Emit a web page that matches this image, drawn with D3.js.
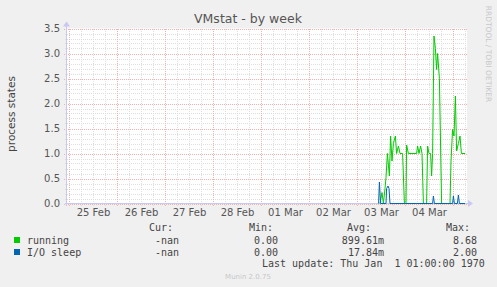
<!DOCTYPE html>
<html>
<head>
<meta charset="utf-8">
<script src="https://cdn.jsdelivr.net/npm/d3@7"></script>
<style>
  body { margin: 0; background: #f0f0f0; }
  svg { display: block; }
  text { font-family: "DejaVu Sans", sans-serif; }
  .mono { font-family: "DejaVu Sans Mono", monospace; font-size: 10px; fill: #444; white-space: pre; }
</style>
</head>
<body>
<svg id="chart" width="497" height="287"></svg>
<script>
  // hours since 25 Feb 00:00
  const runHours = [155.5, 156.5, 157.2, 158, 158.5, 159.2, 160.2, 160.8, 161.5, 162.2, 163.2, 163.8, 164.7, 165.5,
    166.8, 167.7, 168.5, 168.8, 169.7, 173.8, 174.3, 175, 175.8, 176.5, 177.2, 178.8, 179.3, 180, 180.8, 181.3,
    181.8, 182.5, 183.2, 183.8, 184.3, 185.2, 186.3, 190.5, 191, 191.8, 192.5, 193.2, 193.8, 194.7, 195.5, 196.2, 198];
  const runValues = [0, 0.22, 0, 0.3, 0.52, 1.0, 0.55, 1.35, 0.85, 1.2, 1.35, 1.0, 1.15, 1.0,
    1.0, 0, 0, 1.17, 1.0, 1.0, 1.15, 1.0, 1.15, 1.0, 0, 0, 1.15, 1.0, 1.0, 0.55,
    1.0, 3.35, 3.1, 2.68, 3.0, 2.5, 0, 0, 0.85, 1.48, 1.35, 2.15, 1.05, 1.2, 1.35, 1.0, 1.0];
  const ioHours = [154.8, 155.2, 155.8, 158.5, 158.8, 159.5, 160, 160.5, 181.8, 182.2, 182.7, 191.8, 192.2, 192.7,
    194.2, 194.7, 195.2, 198];
  const ioValues = [0, 0.43, 0, 0, 0.3, 0.35, 0.3, 0, 0, 0.15, 0, 0, 0.15, 0, 0, 0.17, 0, 0];

  const dayLabels = ["25 Feb", "26 Feb", "27 Feb", "28 Feb", "01 Mar", "02 Mar", "03 Mar", "04 Mar"];
  const yTicks = [0, 0.5, 1.0, 1.5, 2.0, 2.5, 3.0, 3.5];

  const legendRows = [
    { name: "running", color: "#00cc00", cur: "-nan", min: "0.00", avg: "899.61m", max: "8.68" },
    { name: "I/O sleep", color: "#0066b3", cur: "-nan", min: "0.00", avg: "17.84m", max: "2.00" }
  ];

  const t0 = Date.UTC(2023, 1, 25);
  const hourMs = 3600 * 1000;
  const toDate = (h) => new Date(t0 + h * hourMs);

  const marginLeft = 67;
  const plotRight = 467;
  const plotTop = 28.5;
  const plotBottom = 203.5;

  const x = d3.scaleUtc()
    .domain([toDate(-1), toDate(199)])
    .range([marginLeft, plotRight]);

  const y = d3.scaleLinear()
    .domain([0, 3.5])
    .range([plotBottom, plotTop]);

  const svg = d3.select("#chart");

  svg.append("rect")
    .attr("x", marginLeft).attr("y", plotTop)
    .attr("width", plotRight - marginLeft).attr("height", plotBottom - plotTop)
    .attr("fill", "#ffffff");

  // minor grid
  const minorY = d3.range(0, 36).map((i) => i / 10).filter((v) => Math.round(v * 10) % 5 !== 0);
  const minorX = d3.utcHour.every(6).range(toDate(-1), toDate(199))
    .filter((d) => d.getUTCHours() !== 0);
  const days = d3.utcDay.range(toDate(-1), toDate(199));

  const grid = svg.append("g").attr("shape-rendering", "crispEdges");
  grid.selectAll(".hminor").data(minorY).enter().append("line")
    .attr("x1", marginLeft - 2).attr("x2", plotRight)
    .attr("y1", (d) => Math.round(y(d)) + 0.5).attr("y2", (d) => Math.round(y(d)) + 0.5)
    .attr("stroke", "#dedede").attr("stroke-dasharray", "1,1");
  grid.selectAll(".vminor").data(minorX).enter().append("line")
    .attr("x1", (d) => Math.round(x(d)) + 0.5).attr("x2", (d) => Math.round(x(d)) + 0.5)
    .attr("y1", plotTop).attr("y2", plotBottom + 2)
    .attr("stroke", "#dedede").attr("stroke-dasharray", "1,1");
  grid.selectAll(".hmajor").data(yTicks).enter().append("line")
    .attr("x1", marginLeft - 3).attr("x2", plotRight)
    .attr("y1", (d) => Math.round(y(d)) + 0.5).attr("y2", (d) => Math.round(y(d)) + 0.5)
    .attr("stroke", "#eeb4b4").attr("stroke-dasharray", "1,1");
  grid.selectAll(".vmajor").data(days).enter().append("line")
    .attr("x1", (d) => Math.round(x(d)) + 0.5).attr("x2", (d) => Math.round(x(d)) + 0.5)
    .attr("y1", plotTop).attr("y2", plotBottom + 3)
    .attr("stroke", "#eeb4b4").attr("stroke-dasharray", "1,1");

  // axes lines with arrows
  const axisColor = "#c8c8f0";
  svg.append("line").attr("shape-rendering", "crispEdges")
    .attr("x1", marginLeft - 2).attr("x2", plotRight + 2)
    .attr("y1", plotBottom).attr("y2", plotBottom).attr("stroke", axisColor);
  svg.append("line").attr("shape-rendering", "crispEdges")
    .attr("x1", marginLeft - 0.5).attr("x2", marginLeft - 0.5)
    .attr("y1", plotBottom + 2).attr("y2", plotTop - 3).attr("stroke", axisColor);
  svg.append("path")
    .attr("d", `M${plotRight + 1},${plotBottom - 3.5}L${plotRight + 6},${plotBottom}L${plotRight + 1},${plotBottom + 3.5}Z`)
    .attr("fill", axisColor);
  svg.append("path")
    .attr("d", `M${marginLeft - 4},${plotTop - 2}L${marginLeft - 0.5},${plotTop - 7}L${marginLeft + 3},${plotTop - 2}Z`)
    .attr("fill", axisColor);

  // tick labels
  const yAxis = svg.append("g")
    .attr("transform", `translate(${marginLeft},0)`)
    .call(d3.axisLeft(y).tickValues(yTicks).tickFormat(d3.format(".1f")).tickSize(0).tickPadding(7));
  yAxis.select(".domain").remove();
  yAxis.selectAll("text").attr("font-family", "DejaVu Sans").attr("font-size", 10).attr("fill", "#555");

  const noonTicks = dayLabels.map((d, i) => toDate(i * 24 + 12));
  const xAxis = svg.append("g")
    .attr("transform", `translate(0,${plotBottom})`)
    .call(d3.axisBottom(x).tickValues(noonTicks).tickFormat((d, i) => dayLabels[i]).tickSize(0).tickPadding(5));
  xAxis.select(".domain").remove();
  xAxis.selectAll("text").attr("font-family", "DejaVu Sans").attr("font-size", 10).attr("fill", "#555");

  // series
  const line = d3.line()
    .x((d) => x(toDate(d[0])))
    .y((d) => y(d[1]));

  svg.append("path")
    .datum(d3.zip(runHours, runValues))
    .attr("fill", "none").attr("stroke", "#00cc00").attr("stroke-width", 1)
    .attr("d", line);
  svg.append("path")
    .datum(d3.zip(ioHours, ioValues))
    .attr("fill", "none").attr("stroke", "#0066b3").attr("stroke-width", 1)
    .attr("d", line);

  // title and labels
  svg.append("text").attr("x", 248).attr("y", 23).attr("text-anchor", "middle")
    .attr("font-size", 12.5).attr("fill", "#555").text("VMstat - by week");
  svg.append("text").attr("transform", "translate(15,114) rotate(-90)").attr("text-anchor", "middle")
    .attr("font-size", 10.5).attr("fill", "#444").text("process states");
  svg.append("text").attr("transform", "translate(486,54) rotate(90)").attr("text-anchor", "middle")
    .attr("font-size", 7.5).attr("fill", "#c8c8c8").text("RRDTOOL / TOBI OETIKER");

  // legend
  const headers = [["Cur:", 149], ["Min:", 249], ["Avg:", 347], ["Max:", 446]];
  svg.selectAll(".hdr").data(headers).enter().append("text")
    .attr("class", "mono").attr("x", (d) => d[1]).attr("y", 231).text((d) => d[0]);

  const rows = svg.selectAll(".row").data(legendRows).enter().append("g")
    .attr("transform", (d, i) => `translate(0,${244 + i * 12})`);
  rows.append("rect").attr("x", 14).attr("y", -7).attr("width", 6).attr("height", 6)
    .attr("fill", (d) => d.color);
  rows.append("text").attr("class", "mono").attr("x", 27).attr("y", 0).text((d) => d.name);
  const cols = [["cur", 179], ["min", 278], ["avg", 384], ["max", 477]];
  cols.forEach(([k, xe]) => {
    rows.append("text").attr("class", "mono").attr("x", xe).attr("y", 0)
      .attr("text-anchor", "end").text((d) => d[k]);
  });

  svg.append("text").attr("class", "mono").attr("x", 262).attr("y", 267)
    .text("Last update: Thu Jan  1 01:00:00 1970");
  svg.append("text").attr("x", 248).attr("y", 279).attr("text-anchor", "middle")
    .attr("font-size", 7).attr("fill", "#c8c8c8").text("Munin 2.0.75");
</script>
</body>
</html>
